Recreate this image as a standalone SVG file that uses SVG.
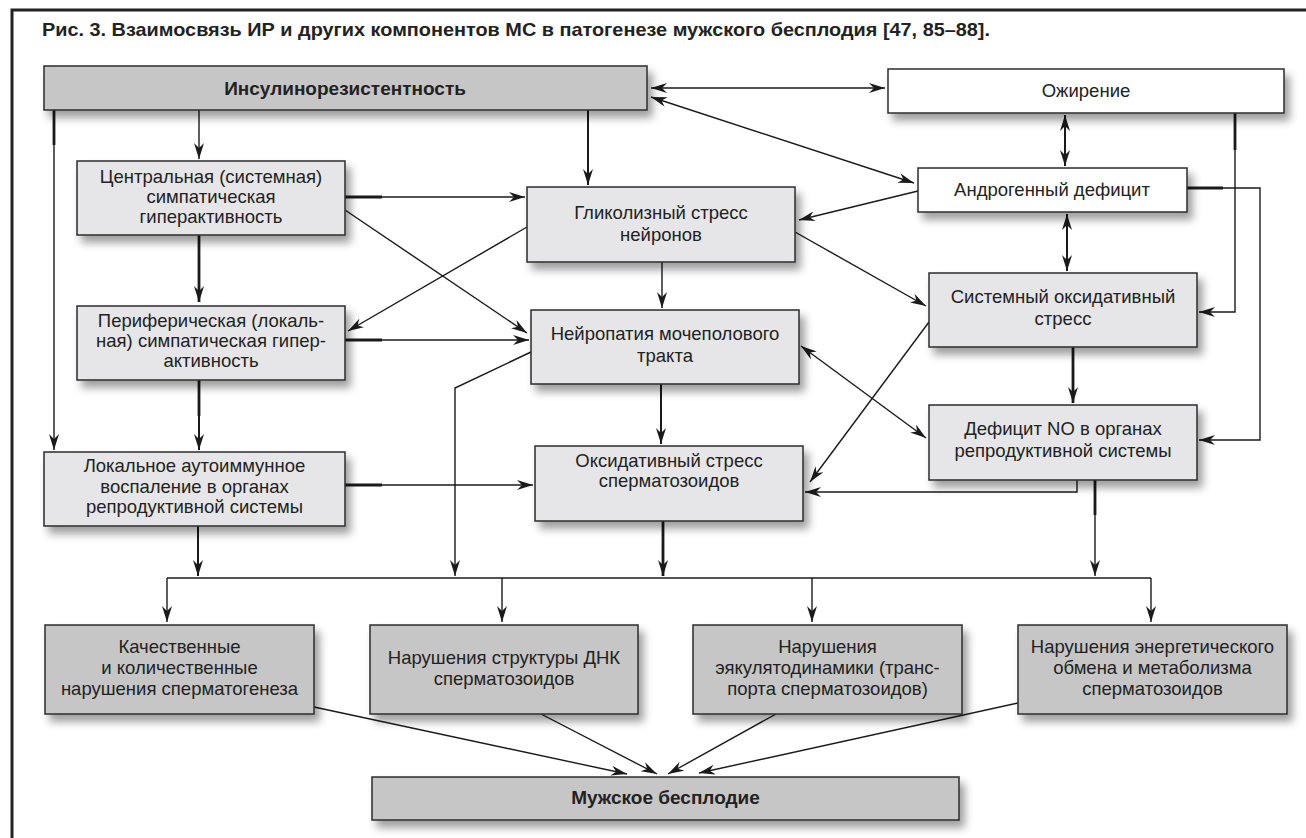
<svg xmlns="http://www.w3.org/2000/svg" width="1306" height="838" viewBox="0 0 1306 838">
<defs>
<filter id="sh" x="-10%" y="-20%" width="130%" height="170%">
<feDropShadow dx="5" dy="7" stdDeviation="4" flood-color="#000" flood-opacity="0.38"/>
</filter>
<marker id="ah" viewBox="0 0 16 10" refX="16" refY="5" markerWidth="16" markerHeight="10" markerUnits="userSpaceOnUse" orient="auto-start-reverse">
<path d="M0,0 L16,5 L0,10 L5,5 z" fill="#1a1a1a"/>
</marker>
</defs>
<style>
.box{stroke:#2b2b2b;stroke-width:1.5}
.dk{fill:#c6c6c6}
.lt{fill:#e6e6e8}
.wh{fill:#ffffff}
text{font-family:"Liberation Sans",Arial,sans-serif;fill:#222;text-anchor:middle}
.t{font-size:18.5px}
.b{font-size:19px;font-weight:bold}
.ttl{font-size:19px;font-weight:bold;text-anchor:start}
.c{fill:none;stroke:#1a1a1a;stroke-width:1.4}
.k{fill:none;stroke:#1a1a1a;stroke-width:2.8}
.m{fill:none;stroke:#1a1a1a;stroke-width:2}
</style>
<rect width="1306" height="838" fill="#fff"/>
<path d="M12,838 V10 H1306" fill="none" stroke="#222" stroke-width="3"/>
<text class="ttl" x="42" y="36" textLength="948" lengthAdjust="spacingAndGlyphs">Рис. 3. Взаимосвязь ИР и других компонентов МС в патогенезе мужского бесплодия [47, 85–88].</text>

<g id="connectors">
<path class="c" d="M651,88 H885" marker-start="url(#ah)" marker-end="url(#ah)"/>
<path class="c" d="M651,97 L914,183" marker-start="url(#ah)" marker-end="url(#ah)"/>
<path class="m" d="M1065,115 V166" marker-start="url(#ah)" marker-end="url(#ah)"/>
<path class="c" d="M918,191 L799,220" marker-end="url(#ah)"/>
<path class="m" d="M1067,214 V271" marker-start="url(#ah)" marker-end="url(#ah)"/>
<path class="k" d="M1235,113 V150"/>
<path class="c" d="M1235,150 V312 H1199" marker-end="url(#ah)"/>
<path class="k" d="M1187,188 H1223"/>
<path class="c" d="M1223,188 H1260 V440 H1199" marker-end="url(#ah)"/>
<path class="k" d="M1073,347 V403" marker-end="url(#ah)"/>
<path class="c" d="M199,110 V159" marker-end="url(#ah)"/>
<path class="m" d="M588,110 V185" marker-end="url(#ah)"/>
<path class="k" d="M54,110 V145"/>
<path class="c" d="M54,145 V450" marker-end="url(#ah)"/>
<path class="k" d="M345,197 H382"/>
<path class="c" d="M382,197 H525" marker-end="url(#ah)"/>
<path class="c" d="M345,210 L527,333" marker-end="url(#ah)"/>
<path class="k" d="M199,235 V302" marker-end="url(#ah)"/>
<path class="c" d="M527,227 L348,331" marker-end="url(#ah)"/>
<path class="c" d="M662,262 V308" marker-end="url(#ah)"/>
<path class="c" d="M795,232 L926,306" marker-end="url(#ah)"/>
<path class="k" d="M345,340 H382"/>
<path class="c" d="M382,340 H529" marker-end="url(#ah)"/>
<path class="k" d="M199,380 V416"/>
<path class="m" d="M199,416 V450" marker-end="url(#ah)"/>
<path class="c" d="M531,352 L455,388 V576" marker-end="url(#ah)"/>
<path class="m" d="M661,384 V444" marker-end="url(#ah)"/>
<path class="c" d="M801,346 L926,438" marker-start="url(#ah)" marker-end="url(#ah)"/>
<path class="k" d="M345,485 H382"/>
<path class="c" d="M382,485 H533" marker-end="url(#ah)"/>
<path class="c" d="M929,322 L810,482" marker-end="url(#ah)"/>
<path class="c" d="M1077,480 V492 H805" marker-end="url(#ah)"/>
<path class="k" d="M1095,480 V515"/>
<path class="c" d="M1095,515 V576" marker-end="url(#ah)"/>
<path class="k" d="M663,521 V576" marker-end="url(#ah)"/>
<path class="m" d="M198,526 V576" marker-end="url(#ah)"/>
<path class="c" d="M167,578 H1151"/>
<path class="c" d="M167,578 V622" marker-end="url(#ah)"/>
<path class="c" d="M502,578 V622" marker-end="url(#ah)"/>
<path class="c" d="M812,578 V622" marker-end="url(#ah)"/>
<path class="c" d="M1151,578 V622" marker-end="url(#ah)"/>
<path class="c" d="M314,707 L627,774" marker-end="url(#ah)"/>
<path class="c" d="M541,714 L657,774" marker-end="url(#ah)"/>
<path class="c" d="M776,714 L668,774" marker-end="url(#ah)"/>
<path class="c" d="M1018,703 L699,773" marker-end="url(#ah)"/>
</g>

<g id="ins" filter="url(#sh)"><rect class="box dk" x="44" y="66" width="603" height="44"/></g>
<text class="b" x="345" y="95">Инсулинорезистентность</text>

<g id="ozh" filter="url(#sh)"><rect class="box wh" x="888" y="69" width="396" height="44"/></g>
<text class="t" x="1086" y="97">Ожирение</text>

<g id="andr" filter="url(#sh)"><rect class="box wh" x="918" y="168" width="269" height="44"/></g>
<text class="t" x="1052" y="196">Андрогенный дефицит</text>

<g id="central" filter="url(#sh)"><rect class="box lt" x="77" y="161" width="268" height="74"/></g>
<text class="t" x="211" y="183">Центральная (системная)</text>
<text class="t" x="211" y="203">симпатическая</text>
<text class="t" x="211" y="223">гиперактивность</text>

<g id="glyc" filter="url(#sh)"><rect class="box lt" x="527" y="187" width="268" height="75"/></g>
<text class="t" x="661" y="219">Гликолизный стресс</text>
<text class="t" x="661" y="241">нейронов</text>

<g id="perif" filter="url(#sh)"><rect class="box lt" x="77" y="306" width="268" height="74"/></g>
<text class="t" x="211" y="327">Периферическая (локаль-</text>
<text class="t" x="211" y="347">ная) симпатическая гипер-</text>
<text class="t" x="211" y="367">активность</text>

<g id="neuro" filter="url(#sh)"><rect class="box lt" x="531" y="310" width="268" height="74"/></g>
<text class="t" x="665" y="340">Нейропатия мочеполового</text>
<text class="t" x="665" y="362">тракта</text>

<g id="sys" filter="url(#sh)"><rect class="box lt" x="929" y="273" width="268" height="74"/></g>
<text class="t" x="1063" y="303">Системный оксидативный</text>
<text class="t" x="1063" y="325">стресс</text>

<g id="nodef" filter="url(#sh)"><rect class="box lt" x="929" y="405" width="268" height="75"/></g>
<text class="t" x="1063" y="435">Дефицит NO в органах</text>
<text class="t" x="1063" y="457">репродуктивной системы</text>

<g id="local" filter="url(#sh)"><rect class="box lt" x="44" y="452" width="301" height="74"/></g>
<text class="t" x="194.5" y="472">Локальное аутоиммунное</text>
<text class="t" x="194.5" y="493">воспаление в органах</text>
<text class="t" x="194.5" y="513">репродуктивной системы</text>

<g id="oxsp" filter="url(#sh)"><rect class="box lt" x="535" y="446" width="268" height="75"/></g>
<text class="t" x="669" y="467">Оксидативный стресс</text>
<text class="t" x="669" y="487">сперматозоидов</text>

<g id="b1" filter="url(#sh)"><rect class="box dk" x="45" y="625" width="269" height="89"/></g>
<text class="t" x="179.5" y="653">Качественные</text>
<text class="t" x="179.5" y="674">и количественные</text>
<text class="t" x="179.5" y="695">нарушения сперматогенеза</text>

<g id="b2" filter="url(#sh)"><rect class="box dk" x="370" y="625" width="268" height="89"/></g>
<text class="t" x="504" y="664">Нарушения структуры ДНК</text>
<text class="t" x="504" y="685">сперматозоидов</text>

<g id="b3" filter="url(#sh)"><rect class="box dk" x="693" y="625" width="269" height="89"/></g>
<text class="t" x="827.5" y="653">Нарушения</text>
<text class="t" x="827.5" y="674">эякулятодинамики (транс-</text>
<text class="t" x="827.5" y="695">порта сперматозоидов)</text>

<g id="b4" filter="url(#sh)"><rect class="box dk" x="1018" y="625" width="269" height="89"/></g>
<text class="t" x="1152.5" y="653">Нарушения энергетического</text>
<text class="t" x="1152.5" y="674">обмена и метаболизма</text>
<text class="t" x="1152.5" y="695">сперматозоидов</text>

<g id="male" filter="url(#sh)"><rect class="box dk" x="372" y="777" width="587" height="43"/></g>
<text class="b" x="665.5" y="804">Мужское бесплодие</text>
</svg>
